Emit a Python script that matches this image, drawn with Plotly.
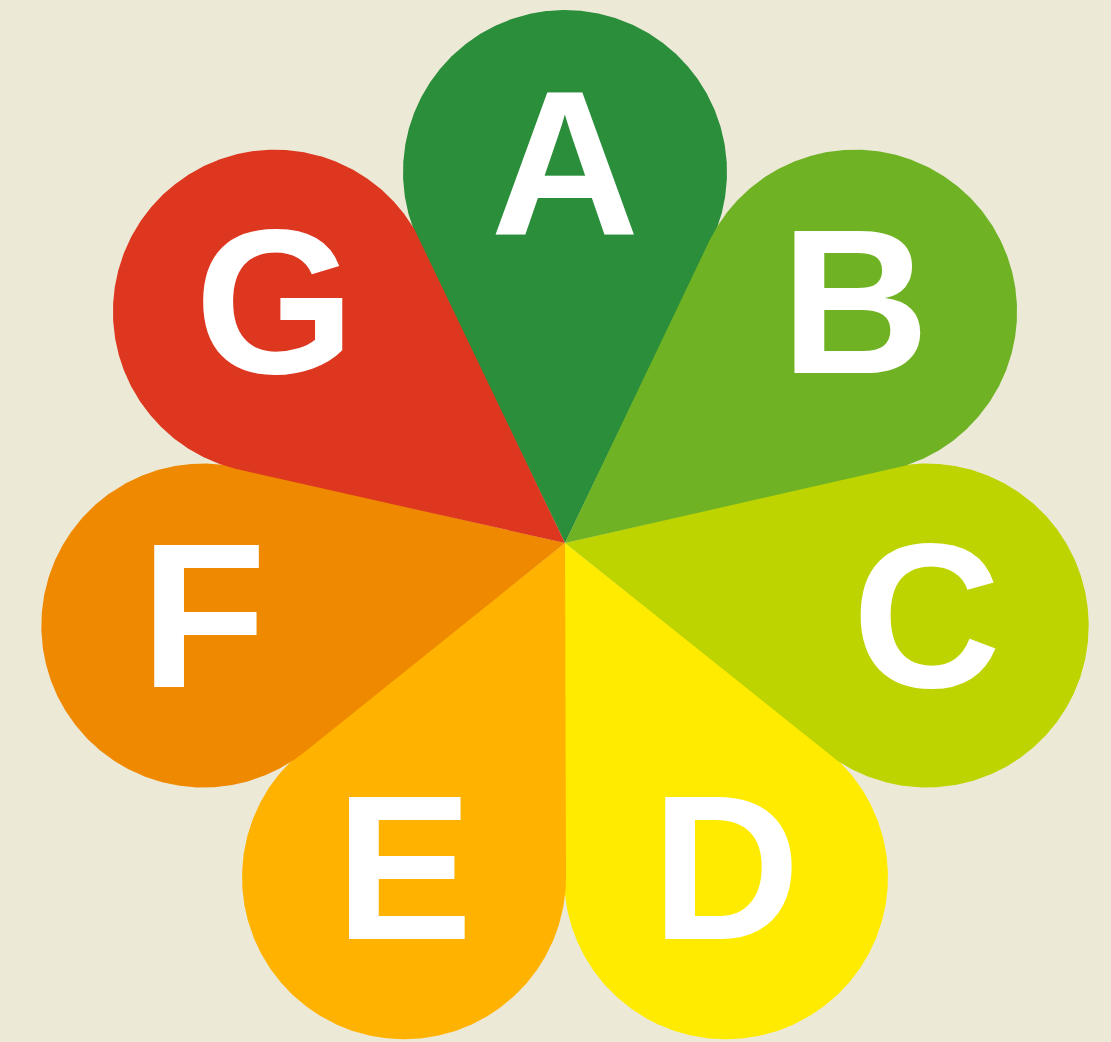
import numpy as np
import plotly.graph_objects as go

# energy classes, clockwise from the top
labels = ["A", "B", "C", "D", "E", "F", "G"]
colors = ["#2A8E3A", "#6FB324", "#BED400", "#FFEB00", "#FFB300", "#EF8A00", "#DD371F"]
# petals are stacked bottom-up: lower petals are painted first
draw_order = ["D", "E", "C", "F", "A", "B", "G"]

W, H = 1111, 1042
cx, cy = 565, 1042 - 543     # flower centre
dist = 371                   # centre -> petal circle centre
rad = 162                    # petal circle radius
bg = "#ECE9D7"

n = len(labels)
alpha = np.arcsin(rad / dist)

fig = go.Figure()

for lab in draw_order:
    i = labels.index(lab)
    theta = np.pi / 2 - i * 2 * np.pi / n
    px_, py_ = cx + dist * np.cos(theta), cy + dist * np.sin(theta)
    phi = np.linspace(theta + 1.5 * np.pi - alpha, theta + 2.5 * np.pi + alpha, 400)
    xs = np.concatenate([[cx], px_ + rad * np.cos(phi), [cx]])
    ys = np.concatenate([[cy], py_ + rad * np.sin(phi), [cy]])
    fig.add_trace(go.Scatter(
        x=xs, y=ys, mode="lines", fill="toself",
        fillcolor=colors[i], line=dict(width=0, color=colors[i]),
        hoverinfo="skip", showlegend=False))

# letters
tx, ty = [], []
for i, lab in enumerate(labels):
    theta = np.pi / 2 - i * 2 * np.pi / n
    tx.append(cx + dist * np.cos(theta))
    ty.append(cy + dist * np.sin(theta) - 10)

fig.add_trace(go.Scatter(
    x=tx, y=ty, mode="text", text=labels,
    textposition="middle center",
    textfont=dict(family="Liberation Sans, Arial, sans-serif", size=206,
                  color="white", weight="bold"),
    hoverinfo="skip", showlegend=False))

fig.update_xaxes(range=[0, W], visible=False, fixedrange=True)
fig.update_yaxes(range=[0, H], visible=False, fixedrange=True)
fig.update_layout(width=W, height=H, margin=dict(l=0, r=0, t=0, b=0),
                  paper_bgcolor=bg, plot_bgcolor=bg)

fig.write_html("out.html", config={"displayModeBar": False})

# drop the browser's default page margin
with open("out.html", encoding="utf-8") as f:
    page = f.read()
page = page.replace("<head>", "<head><style>body{margin:0;overflow:hidden;background:%s}</style>" % bg, 1)
with open("out.html", "w", encoding="utf-8") as f:
    f.write(page)
